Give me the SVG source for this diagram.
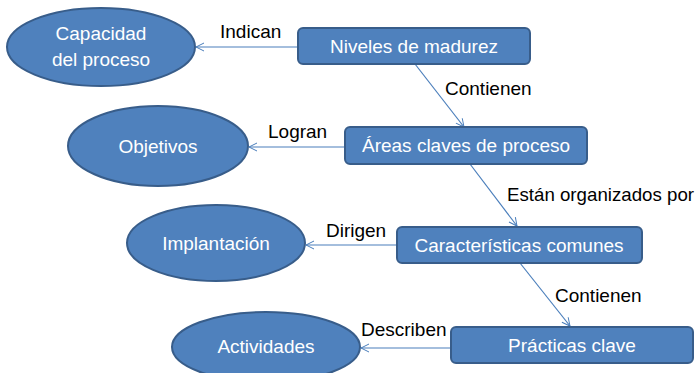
<svg xmlns="http://www.w3.org/2000/svg" width="697" height="373" viewBox="0 0 697 373">
<defs>
<marker id="arr" markerWidth="10" markerHeight="10" refX="9" refY="5" orient="auto" markerUnits="userSpaceOnUse">
<path d="M1,1 L9,5 L1,9" fill="none" stroke="#4A7EBB" stroke-width="1"/>
</marker>
</defs>
<style>
.n{fill:#4F81BD;stroke:#385D8A;stroke-width:2}
.t{fill:#fff;font-family:"Liberation Sans",Arial,sans-serif;font-size:19px;text-anchor:middle}
.l{fill:#000;font-family:"Liberation Sans",Arial,sans-serif;font-size:19px}
.c{stroke:#4A7EBB;stroke-width:1.2;fill:none;marker-end:url(#arr)}
</style>
<rect width="697" height="373" fill="#fff"/>
<g id="connectors">
<line class="c" x1="298" y1="47" x2="196" y2="47"/>
<line class="c" x1="415" y1="64" x2="464" y2="127"/>
<line class="c" x1="345" y1="147" x2="249" y2="147"/>
<line class="c" x1="470" y1="164" x2="517" y2="226"/>
<line class="c" x1="397" y1="245" x2="306" y2="245"/>
<line class="c" x1="520" y1="263" x2="570" y2="326"/>
<line class="c" x1="451" y1="348" x2="361" y2="348"/>
<text class="l" x="220" y="38">Indican</text>
<text class="l" x="445" y="95">Contienen</text>
<text class="l" x="268" y="138">Logran</text>
<text class="l" x="507" y="201" textLength="187" lengthAdjust="spacingAndGlyphs">Están organizados por</text>
<text class="l" x="326" y="237">Dirigen</text>
<text class="l" x="555" y="302">Contienen</text>
<text class="l" x="361" y="336">Describen</text>
</g>
<g id="capacidad">
<ellipse class="n" cx="101" cy="47" rx="94" ry="39"/>
<text class="t" x="101" y="40">Capacidad</text>
<text class="t" x="101" y="66">del proceso</text>
</g>
<g id="niveles">
<rect class="n" x="298" y="28" width="232" height="36" rx="5"/>
<text class="t" x="414" y="53">Niveles de madurez</text>
</g>
<g id="objetivos">
<ellipse class="n" cx="158" cy="146" rx="90" ry="40"/>
<text class="t" x="158" y="153">Objetivos</text>
</g>
<g id="areas">
<rect class="n" x="345" y="127" width="242" height="37" rx="5"/>
<text class="t" x="466" y="152">Áreas claves de proceso</text>
</g>
<g id="implantacion">
<ellipse class="n" cx="216" cy="243" rx="89" ry="38"/>
<text class="t" x="216" y="250">Implantación</text>
</g>
<g id="caracteristicas">
<rect class="n" x="397" y="227" width="245" height="36" rx="5"/>
<text class="t" x="519" y="252">Características comunes</text>
</g>
<g id="actividades">
<ellipse class="n" cx="266" cy="347" rx="94" ry="35"/>
<text class="t" x="266" y="353">Actividades</text>
</g>
<g id="practicas">
<rect class="n" x="451" y="327" width="242" height="36" rx="5"/>
<text class="t" x="572" y="352">Prácticas clave</text>
</g>
</svg>
